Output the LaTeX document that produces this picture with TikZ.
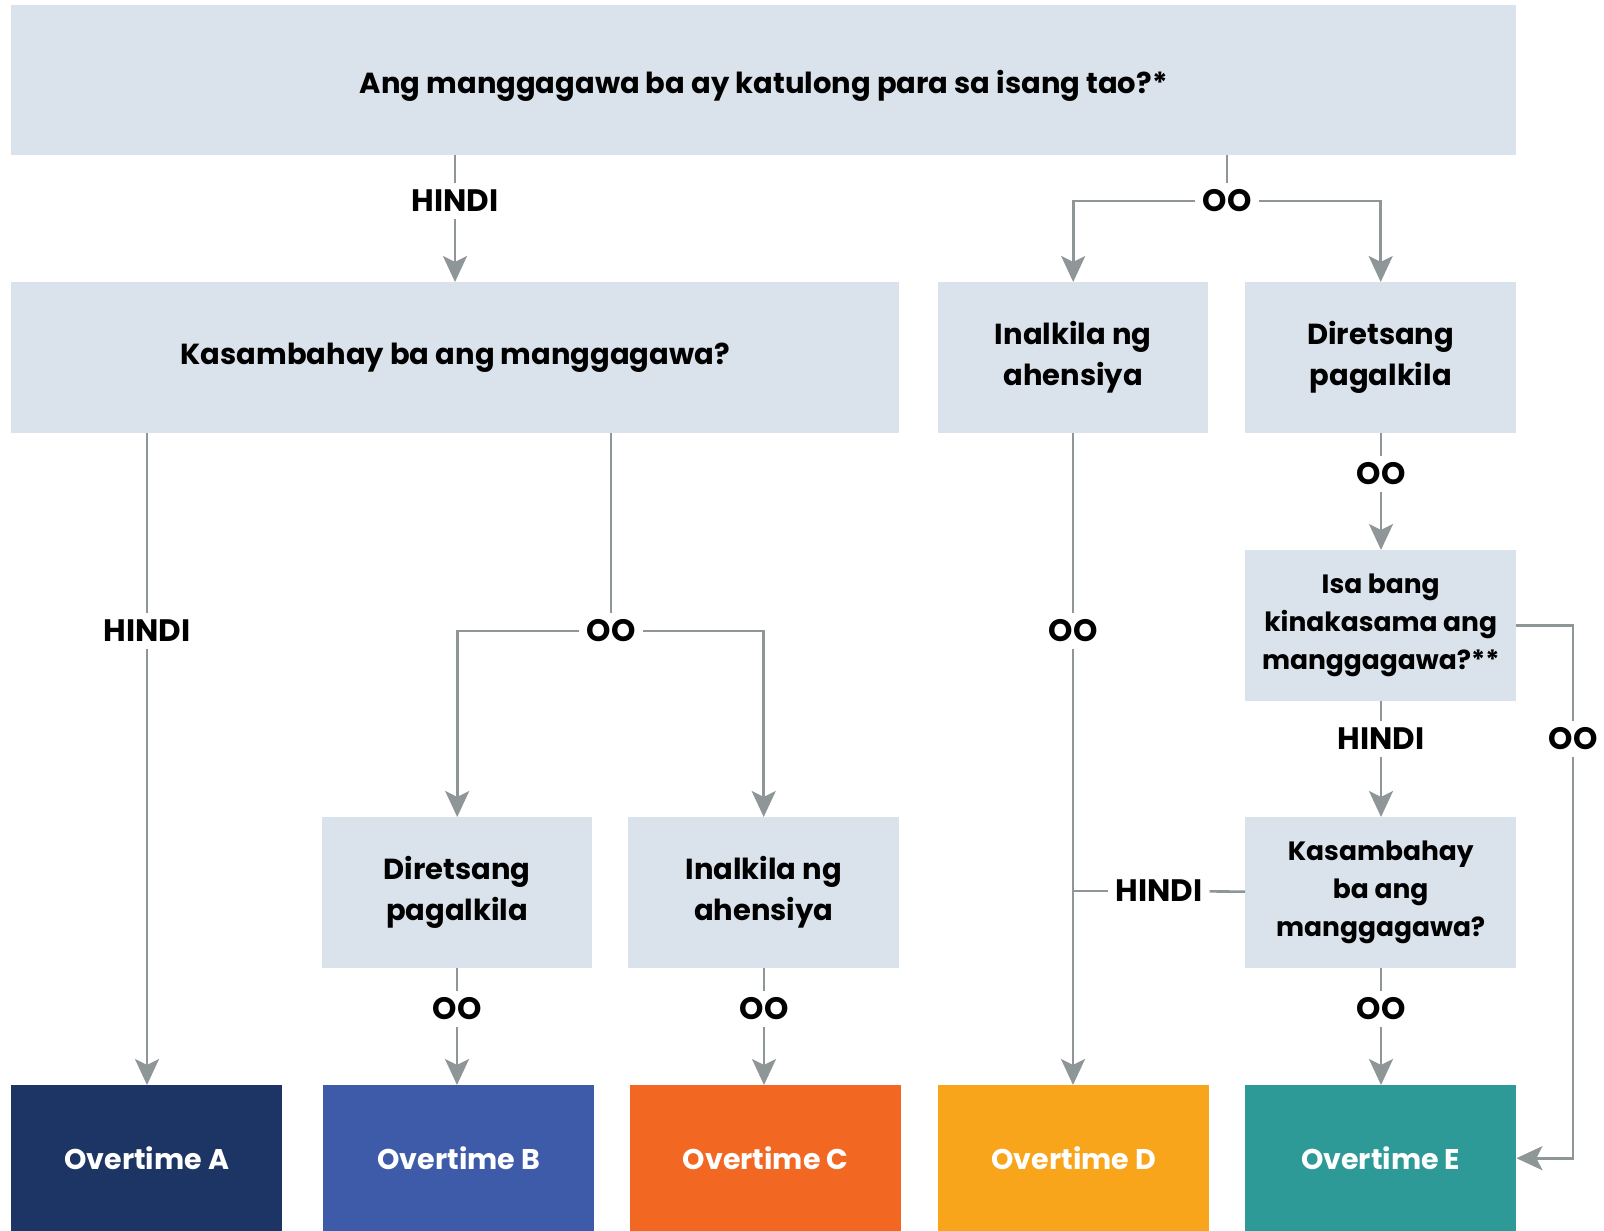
\documentclass[tikz,border=0pt]{standalone}
\usepackage{fontspec}
\setmainfont{Poppins}
\usetikzlibrary{arrows.meta}
\definecolor{boxfill}{HTML}{DAE2EB}
\definecolor{linegray}{HTML}{8E9698}
\definecolor{otA}{HTML}{1C3564}
\definecolor{otB}{HTML}{3D5BA8}
\definecolor{otC}{HTML}{F26722}
\definecolor{otD}{HTML}{F9A51B}
\definecolor{otE}{HTML}{2E9A98}

\begin{document}
\begin{tikzpicture}[x=1pt, y=-1pt,
    box/.style={fill=boxfill, inner sep=0pt, anchor=north west, align=center,
      font=\fontsize{29}{41}\selectfont\bfseries},
    smallbox/.style={box, font=\fontsize{26.5}{38}\selectfont\bfseries},
    result/.style={box, text=white, minimum width=271pt, minimum height=146pt,
      font=\fontsize{28.5}{34}\selectfont\bfseries},
    answer/.style={inner sep=7pt, font=\fontsize{31}{36}\selectfont\bfseries},
    conn/.style={draw=linegray, line width=2.6pt},
    arr/.style={conn, -{Stealth[length=26pt, width=24pt, inset=6pt]}}]
  \useasboundingbox (0,0) rectangle (1604,1231);

  % questions
  \node[box, minimum width=1505pt, minimum height=150pt, text height=26pt, text depth=0pt] (top) at (11, 5)
    {Ang manggagawa ba ay katulong para sa isang tao?*};
  \node[box, minimum width=888pt, minimum height=151pt] (kasA) at (11, 282)
    {Kasambahay ba ang manggagawa?};
  \node[box, minimum width=270pt, minimum height=151pt] (inalD) at (938, 282)
    {Inalkila ng\\ahensiya};
  \node[box, minimum width=271pt, minimum height=151pt] (diretE) at (1245, 282)
    {Diretsang\\pagalkila};
  \node[smallbox, minimum width=271pt, minimum height=151pt] (isa) at (1245, 550)
    {Isa bang\\kinakasama ang\\manggagawa?**};
  \node[box, minimum width=270pt, minimum height=151pt] (diretB) at (322, 817)
    {Diretsang\\pagalkila};
  \node[box, minimum width=271pt, minimum height=151pt] (inalC) at (628, 817)
    {Inalkila ng\\ahensiya};
  \node[smallbox, minimum width=271pt, minimum height=151pt] (kasE) at (1245, 817)
    {Kasambahay\\ba ang\\manggagawa?};

  % overtime boxes
  \node[result, fill=otA] (outA) at (11, 1085) {Overtime A};
  \node[result, fill=otB] (outB) at (323, 1085) {Overtime B};
  \node[result, fill=otC] (outC) at (630, 1085) {Overtime C};
  \node[result, fill=otD] (outD) at (938, 1085) {Overtime D};
  \node[result, fill=otE] (outE) at (1245, 1085) {Overtime E};

  % answers
  \node[answer] (h1) at (455, 201) {HINDI};
  \node[answer] (o1) at (1227, 201) {OO};
  \node[answer] (h2) at (147, 631) {HINDI};
  \node[answer] (o2) at (611, 631) {OO};
  \node[answer] (o3) at (457, 1009) {OO};
  \node[answer] (o4) at (764, 1009) {OO};
  \node[answer] (o5) at (1073, 631) {OO};
  \node[answer] (o6) at (1381, 474) {OO};
  \node[answer] (h4) at (1381, 739) {HINDI};
  \node[answer] (h5) at (1159, 891) {HINDI};
  \node[answer] (o7) at (1381, 1009) {OO};
  \node[answer] (o8) at (1573, 739) {OO};

  \draw[conn] (top.south -| h1) -- (h1);
  \draw[arr] (h1) -- (h1 |- kasA.north);
  \draw[conn] (top.south -| o1) -- (o1);
  \draw[arr] (o1) -| (inalD);
  \draw[arr] (o1) -| (diretE);

  \draw[conn] (kasA.south -| h2) -- (h2);
  \draw[arr] (h2) -- (h2 |- outA.north);
  \draw[conn] (kasA.south -| o2) -- (o2);
  \draw[arr] (o2) -| (diretB);
  \draw[arr] (o2) -| (inalC);
  \draw[conn] (diretB.south -| o3) -- (o3);
  \draw[arr] (o3) -- (o3 |- outB.north);
  \draw[conn] (inalC.south -| o4) -- (o4);
  \draw[arr] (o4) -- (o4 |- outC.north);

  \draw[conn] (inalD.south -| o5) -- (o5);
  \draw[arr] (o5) -- (o5 |- outD.north);
  \draw[conn] (kasE) -- (h5);
  \draw[conn] (h5) -- (h5 -| o5);

  \draw[conn] (diretE.south -| o6) -- (o6);
  \draw[arr] (o6) -- (o6 |- isa.north);
  \draw[conn] (isa.south -| h4) -- (h4);
  \draw[arr] (h4) -- (h4 |- kasE.north);
  \draw[conn] (kasE.south -| o7) -- (o7);
  \draw[arr] (o7) -- (o7 |- outE.north);
  \draw[conn] (isa.east) -| (o8);
  \draw[arr] (o8) |- (outE);
\end{tikzpicture}
\end{document}
